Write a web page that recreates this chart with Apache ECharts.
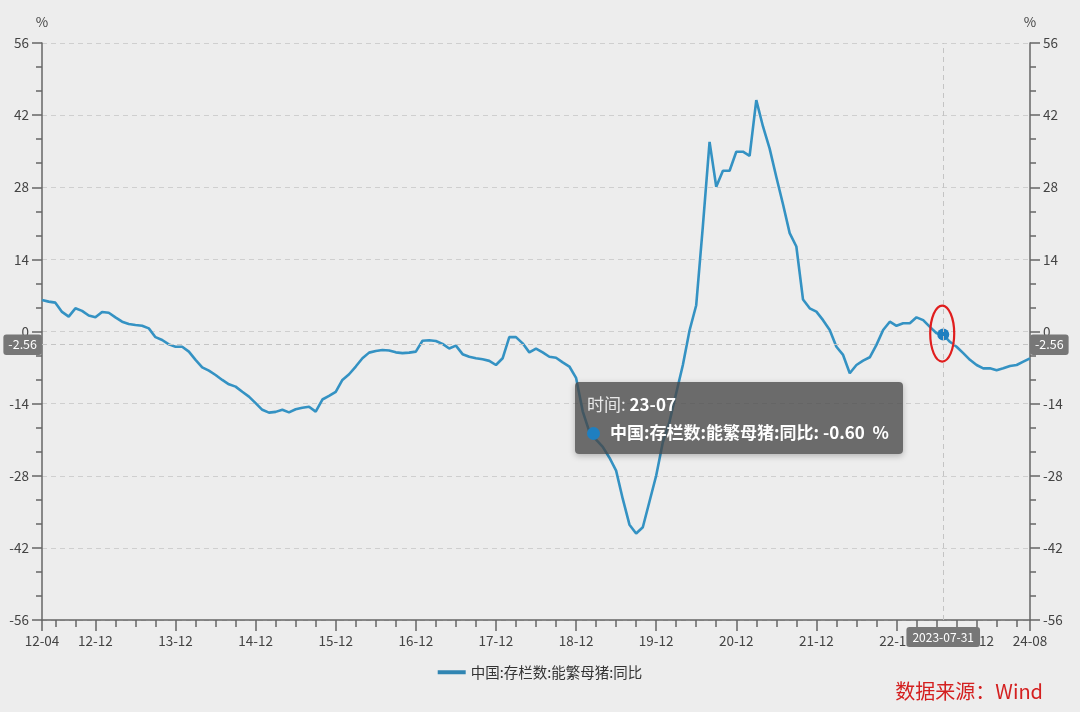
<!DOCTYPE html>
<html><head><meta charset="utf-8">
<script src="https://cdn.jsdelivr.net/npm/echarts@6/dist/echarts.min.js"></script>
<style>html,body{margin:0;padding:0;background:#ededed}#c{width:1080px;height:712px}</style>
</head><body><div id="c"></div>
<script>
const categories = [
 '12-04','12-05','12-06','12-07','12-08','12-09','12-10','12-11','12-12',
 '13-01','13-02','13-03','13-04','13-05','13-06','13-07','13-08','13-09','13-10','13-11','13-12',
 '14-01','14-02','14-03','14-04','14-05','14-06','14-07','14-08','14-09','14-10','14-11','14-12',
 '15-01','15-02','15-03','15-04','15-05','15-06','15-07','15-08','15-09','15-10','15-11','15-12',
 '16-01','16-02','16-03','16-04','16-05','16-06','16-07','16-08','16-09','16-10','16-11','16-12',
 '17-01','17-02','17-03','17-04','17-05','17-06','17-07','17-08','17-09','17-10','17-11','17-12',
 '18-01','18-02','18-03','18-04','18-05','18-06','18-07','18-08','18-09','18-10','18-11','18-12',
 '19-01','19-02','19-03','19-04','19-05','19-06','19-07','19-08','19-09','19-10','19-11','19-12',
 '20-01','20-02','20-03','20-04','20-05','20-06','20-07','20-08','20-09','20-10','20-11','20-12',
 '21-01','21-02','21-03','21-04','21-05','21-06','21-07','21-08','21-09','21-10','21-11','21-12',
 '22-01','22-02','22-03','22-04','22-05','22-06','22-07','22-08','22-09','22-10','22-11','22-12',
 '23-01','23-02','23-03','23-04','23-05','23-06','23-07','23-08','23-09','23-10','23-11','23-12',
 '24-01','24-02','24-03','24-04','24-05','24-06','24-07','24-08'
];
const sowYoY = [
 6.1, 5.8, 5.6, 3.8, 2.9, 4.5, 4.0, 3.1, 2.75, 3.8, 3.65, 2.75,
 1.9, 1.45, 1.25, 1.1, 0.6, -1.1, -1.65, -2.5, -2.95, -2.95, -3.9, -5.5,
 -6.95, -7.6, -8.45, -9.4, -10.25, -10.7, -11.7, -12.65, -13.9, -15.2, -15.75, -15.6,
 -15.2, -15.7, -15.1, -14.8, -14.6, -15.55, -13.2, -12.5, -11.7, -9.4, -8.3, -6.8,
 -5.2, -4.1, -3.8, -3.6, -3.7, -4.05, -4.2, -4.1, -3.9, -1.8, -1.7, -1.85,
 -2.4, -3.3, -2.75, -4.4, -4.9, -5.2, -5.4, -5.7, -6.5, -5.2, -1.1, -1.1,
 -2.3, -4.05, -3.3, -4.05, -4.9, -5.1, -6.0, -6.8, -9.0, -15.5, -19.5, -21.0,
 -22.4, -24.5, -27.0, -32.5, -37.5, -39.2, -38.0, -33.0, -28.0, -21.5, -17.5, -12.0,
 -6.5, 0.2, 5.1, 20.5, 36.8, 28.1, 31.2, 31.2, 34.9, 34.9, 34.1, 44.9,
 39.8, 35.5, 30.0, 24.7, 19.1, 16.5, 6.2, 4.5, 3.85, 2.2, 0.3, -2.95,
 -4.55, -8.1, -6.5, -5.65, -5.0, -2.6, 0.3, 1.9, 1.1, 1.6, 1.6, 2.75,
 2.2, 0.9, -0.35, -0.6, -2.0, -2.95, -4.2, -5.5, -6.5, -7.15, -7.15, -7.5,
 -7.15, -6.7, -6.5, -5.85, -5.2
];
const xTickLabels = ['12-04','12-12','13-12','14-12','15-12','16-12','17-12','18-12','19-12','20-12','21-12','22-12','23-12','24-08'];
const minorTickMonths = ['03','06','09','12'];
const yMin = -56, yMax = 56, yInterval = 14;
const seriesName = '中国:存栏数:能繁母猪:同比';
const hoverCategory = '23-07';
const hoverYValue = -2.56;
const sourceText = '数据来源：Wind';

const FONT = '"Noto Sans CJK SC", "Noto Sans", sans-serif';
const AXIS_COLOR = '#666';
const LABEL_COLOR = '#444';
const LINE_COLOR = '#3085b2';

const chart = echarts.init(document.getElementById('c'), null, {renderer: 'canvas'});

function lastDayLabel(cat) {
  const y = 2000 + parseInt(cat.slice(0, 2), 10);
  const m = parseInt(cat.slice(3, 5), 10);
  const d = new Date(y, m, 0).getDate();
  return y + '-' + cat.slice(3, 5) + '-' + String(d).padStart(2, '0');
}

function yAxisCfg(pos) {
  return {
    type: 'value', position: pos, min: yMin, max: yMax, interval: yInterval,
    name: '%', nameLocation: 'end', nameGap: 14,
    nameTextStyle: {color: LABEL_COLOR, fontSize: 13.5, fontFamily: FONT, align: 'center'},
    axisLine: {show: true, onZero: false, lineStyle: {color: AXIS_COLOR, width: 1.5}},
    axisTick: {show: true, length: 10, lineStyle: {color: AXIS_COLOR, width: 1.5}},
    minorTick: {show: true, splitNumber: 3, length: 6, lineStyle: {color: AXIS_COLOR, width: 1.5}},
    axisLabel: {color: LABEL_COLOR, fontSize: 13.5, fontFamily: FONT, margin: 13},
    splitLine: {show: pos === 'left', lineStyle: {color: '#cfcfcf', type: [5, 4], width: 1}},
    axisPointer: {
      show: true,
      lineStyle: {color: '#c4c4c4', type: [5, 4], width: 1},
      label: {
        show: true, precision: 2, backgroundColor: '#777', color: '#fff',
        fontSize: 12.5, fontFamily: FONT, padding: [4, 5], margin: 0,
        formatter: p => Number(p.value).toFixed(2)
      }
    }
  };
}

const option = {
  backgroundColor: '#ededed',
  animation: false,
  textStyle: {fontFamily: FONT},
  grid: {left: 42, right: 50, top: 43, bottom: 92, containLabel: false},
  title: {
    text: sourceText, right: 32, bottom: 6,
    textStyle: {color: '#d42020', fontSize: 20, fontWeight: 'normal', fontFamily: FONT}
  },
  legend: {
    data: [seriesName], left: 'center', top: 660,
    icon: 'rect', itemWidth: 28, itemHeight: 4, itemGap: 8,
    textStyle: {color: '#333', fontSize: 14.5, fontFamily: FONT}
  },
  tooltip: {
    trigger: 'axis',
    alwaysShowContent: true,
    axisPointer: {type: 'cross', crossStyle: {color: '#c4c4c4', type: [5, 4]}},
    backgroundColor: 'rgba(70,70,70,0.78)',
    borderWidth: 0,
    padding: [8, 14, 8, 12],
    position: [575, 382],
    extraCssText: 'box-shadow:0 2px 6px rgba(0,0,0,0.25);border-radius:4px;',
    textStyle: {color: '#fff', fontSize: 17, fontFamily: FONT},
    formatter: function (params) {
      const p = params[0];
      return '<div style="line-height:28px;font-size:17px;font-family:' + FONT.replace(/"/g, "'") + '">' +
        '<span style="color:#e8e8e8">时间: </span><b>' + p.name + '</b><br/>' +
        '<span style="display:inline-block;width:13px;height:13px;border-radius:50%;background:#1f7fc0;margin-right:10px;vertical-align:-1px"></span>' +
        '<b>' + p.seriesName + ': ' + Number(p.value).toFixed(2) + '&nbsp;&nbsp;%</b></div>';
    }
  },
  xAxis: [
    {
      type: 'category', data: categories, boundaryGap: false, position: 'bottom',
      axisLine: {show: true, onZero: false, lineStyle: {color: AXIS_COLOR, width: 1.5}},
      axisTick: {show: true, length: 11, interval: (i, v) => xTickLabels.includes(v), lineStyle: {color: AXIS_COLOR, width: 1.5}},
      axisLabel: {
        show: true, interval: (i, v) => xTickLabels.includes(v),
        color: LABEL_COLOR, fontSize: 13.5, fontFamily: FONT, margin: 14
      },
      splitLine: {show: false},
      axisPointer: {
        show: true,
        lineStyle: {color: '#c4c4c4', type: [5, 4], width: 1},
        label: {
          show: true, backgroundColor: '#777', color: '#fff', fontSize: 12,
          fontFamily: FONT, padding: [4, 6], margin: 7,
          formatter: p => lastDayLabel(p.value)
        }
      }
    },
    {
      type: 'category', data: categories, boundaryGap: false, position: 'bottom',
      axisLine: {show: false, onZero: false},
      axisTick: {show: true, length: 7, interval: (i, v) => minorTickMonths.includes(v.slice(3)) && !xTickLabels.includes(v), lineStyle: {color: AXIS_COLOR, width: 1.5}},
      axisLabel: {show: false},
      splitLine: {show: false},
      axisPointer: {show: false}
    }
  ],
  yAxis: [yAxisCfg('left'), yAxisCfg('right')],
  series: [{
    name: seriesName, type: 'line', xAxisIndex: 0, yAxisIndex: 0,
    data: sowYoY,
    showSymbol: false, symbol: 'circle', symbolSize: 12,
    itemStyle: {color: LINE_COLOR},
    lineStyle: {color: LINE_COLOR, width: 2.6},
    emphasis: {scale: false, itemStyle: {color: '#1f7fc0'}}
  }]
};

chart.setOption(option);

const hoverIdx = categories.indexOf(hoverCategory);
const pt = chart.convertToPixel({xAxisIndex: 0, yAxisIndex: 0}, [hoverIdx, sowYoY[hoverIdx]]);
const py = chart.convertToPixel({yAxisIndex: 0}, hoverYValue);

chart.setOption({
  graphic: [{
    type: 'ellipse', z: 100,
    shape: {cx: pt[0] - 1, cy: pt[1] - 1, rx: 12, ry: 28},
    style: {fill: 'none', stroke: '#e01e1e', lineWidth: 2.2}
  }]
});

chart.dispatchAction({type: 'showTip', x: pt[0], y: py});
</script>
</body></html>
